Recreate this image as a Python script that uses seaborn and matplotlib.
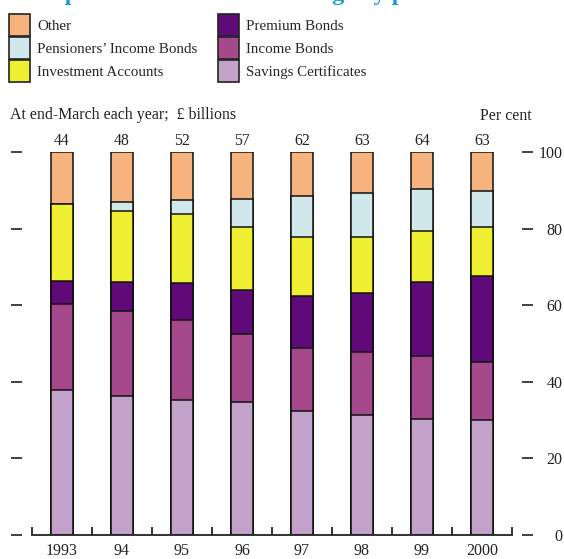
import matplotlib
matplotlib.use("Agg")
import matplotlib.pyplot as plt
import seaborn as sns
import pandas as pd
import numpy as np
from matplotlib.patches import Patch
from matplotlib.ticker import FixedLocator

# Years at end-March and total holdings (£ billions)
years = ["1993", "94", "95", "96", "97", "98", "99", "2000"]
totals = [44, 48, 52, 57, 62, 63, 64, 63]

# Share of each product, per cent (stacked bottom to top)
savings_certificates = [37.8, 36.4, 35.2, 34.7, 32.4, 31.4, 30.3, 30.1]
income_bonds = [22.5, 22.1, 20.9, 17.7, 16.4, 16.5, 16.4, 15.0]
premium_bonds = [6.1, 7.5, 9.7, 11.5, 13.7, 15.4, 19.4, 22.4]
investment_accounts = [20.0, 18.7, 17.9, 16.5, 15.2, 14.4, 13.3, 12.8]
pensioners_income_bonds = [0.0, 2.2, 3.8, 7.3, 10.7, 11.7, 10.9, 9.4]
other = [13.6, 13.1, 12.5, 12.3, 11.6, 10.6, 9.7, 10.3]

series = [
    ("Savings Certificates", savings_certificates, "#C3A2C9"),
    ("Income Bonds", income_bonds, "#A5488C"),
    ("Premium Bonds", premium_bonds, "#5F0A78"),
    ("Investment Accounts", investment_accounts, "#F0F032"),
    ("Pensioners\u2019 Income Bonds", pensioners_income_bonds, "#D1E8EA"),
    ("Other", other, "#F6B37E"),
]

df = pd.DataFrame({"year": years})
running = np.zeros(len(years))
for name, vals, _ in series:
    running = running + np.array(vals)
    df[name] = running

sns.set_theme(style="white")
plt.rcParams["font.family"] = ["Liberation Serif", "DejaVu Serif"]

fig = plt.figure(figsize=(5.64, 5.59), dpi=100)
ax = fig.add_axes([32 / 564, 24 / 559, 480 / 564, 383 / 559])

# Draw cumulative layers from the top down so each segment shows
for name, _, color in reversed(series):
    sns.barplot(data=df, x="year", y=name, color=color, saturation=1,
                width=0.38, edgecolor="#111111", linewidth=1.1,
                errorbar=None, ax=ax)

ax.bar_label(ax.containers[0], labels=[str(t) for t in totals],
             padding=2.5, fontsize=11.4, color="#222222")

ax.set_xlim(-0.5, 7.5)
ax.set_ylim(0, 100)
ax.set_xlabel("")
ax.set_ylabel("")

for side in ("top", "left", "right"):
    ax.spines[side].set_visible(False)
ax.spines["left"].set_position(("outward", 7.2))
ax.spines["right"].set_position(("outward", 7.2))
ax.spines["bottom"].set_linewidth(1.3)
ax.spines["bottom"].set_color("#222222")

ax.set_xticks(range(len(years)))
ax.set_xticklabels(years, fontsize=11.5, color="#222222")
ax.tick_params(axis="x", which="major", length=0, pad=5.5)
ax.xaxis.set_minor_locator(FixedLocator(np.arange(-0.5, len(years), 1.0)))
ax.tick_params(axis="x", which="minor", bottom=True, direction="in",
               length=6, width=1.3, color="#222222")

ax.set_yticks(range(0, 101, 20))
ax.tick_params(axis="y", which="major", left=True, right=True,
               labelleft=False, labelright=True, direction="out",
               length=8, width=1.2, color="#222222", pad=21,
               labelsize=11.5, labelcolor="#222222")
for tick in ax.yaxis.get_major_ticks():
    tick.label2.set_horizontalalignment("right")

# Legend, filled column by column
order = ["Other", "Pensioners\u2019 Income Bonds", "Investment Accounts",
         "Premium Bonds", "Income Bonds", "Savings Certificates"]
lookup = {n: c for n, _, c in series}
handles = [Patch(facecolor=lookup[n], edgecolor="#222222", linewidth=1.2, label=n)
           for n in order]
fig.legend(handles=handles, loc="upper left",
           bbox_to_anchor=(9 / 564, 1 - 14 / 559), ncol=2, frameon=False,
           fontsize=10.8, handlelength=1.4, handleheight=1.88,
           handletextpad=0.47, labelspacing=0.08, columnspacing=1.4,
           borderpad=0, borderaxespad=0)

fig.text(15 / 564, 1.0, "Composition of National Savings by product",
         color="#1A9AD6", fontweight="bold", fontsize=17.5, va="baseline")
fig.text(10 / 564, 1 - 115 / 559, "At end-March each year;  \u00a3 billions",
         va="center", fontsize=11.4, color="#222222")
fig.text(532 / 564, 1 - 116 / 559, "Per cent", ha="right", va="center",
         fontsize=11.4, color="#222222")

fig.savefig("out.png", dpi=100)
